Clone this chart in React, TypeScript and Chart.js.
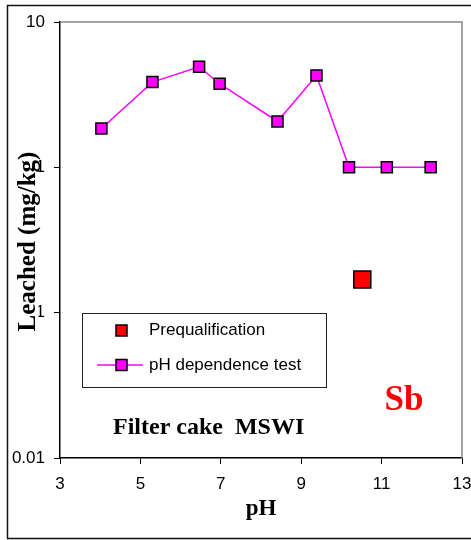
import React, { useEffect, useRef } from 'react';
import { Chart, registerables } from 'chart.js';

Chart.register(...registerables);

// ---- data ----
const phDependencePH = [4.03, 5.3, 6.46, 6.97, 8.41, 9.38, 10.19, 11.13, 12.22];
const phDependenceLeached = [1.85, 3.86, 4.92, 3.76, 2.07, 4.29, 1.0, 1.0, 1.0];
const prequalPH = [10.52];
const prequalLeached = [0.169];
const xTickValues = [3, 5, 7, 9, 11, 13];
const yTickValues = [0.01, 0.1, 1, 10];
const yTickLabels = ['0.01', '0.1', '1', '10'];
const seriesNames = ['Prequalification', 'pH dependence test'];
const xTitle = 'pH';
const yTitle = 'Leached (mg/kg)';
const panelLabel = 'Filter cake  MSWI';
const elementLabel = 'Sb';

const SANS = "'Liberation Sans', Arial, sans-serif";
const SERIF = "'Liberation Serif', 'Times New Roman', serif";

const decorPlugin = {
  id: 'decor',
  afterDraw(chart: any) {
    const { ctx, chartArea } = chart;
    const { left, top, right, bottom } = chartArea;
    ctx.save();

    // gray top/right plot border
    ctx.strokeStyle = '#888';
    ctx.lineWidth = 1.5;
    ctx.beginPath();
    ctx.moveTo(left, top);
    ctx.lineTo(right, top);
    ctx.lineTo(right, bottom);
    ctx.stroke();

    // outer frame
    ctx.strokeStyle = '#111';
    ctx.lineWidth = 1.5;
    ctx.strokeRect(7.5, 5.5, 480, 533);

    // y title with white background (covers part of tick labels as in original)
    ctx.save();
    ctx.translate(34.5, 241.5);
    ctx.rotate(-Math.PI / 2);
    ctx.font = `bold 25px ${SERIF}`;
    const w = ctx.measureText(yTitle).width;
    ctx.fillStyle = '#fff';
    ctx.fillRect(-w / 2 - 1, -17, w + 2, 21);
    ctx.fillStyle = '#000';
    ctx.textAlign = 'center';
    ctx.textBaseline = 'alphabetic';
    ctx.fillText(yTitle, 0, 0);
    ctx.restore();

    // legend box
    ctx.fillStyle = '#fff';
    ctx.fillRect(82.5, 313.5, 244, 74);
    ctx.strokeStyle = '#222';
    ctx.lineWidth = 1;
    ctx.strokeRect(82.5, 313.5, 244, 74);

    // entry 1: prequalification
    ctx.fillStyle = '#FF0000';
    ctx.fillRect(116, 325, 11, 11);
    ctx.strokeStyle = '#000';
    ctx.lineWidth = 1.5;
    ctx.strokeRect(116, 325, 11, 11);

    // entry 2: pH dependence test
    ctx.strokeStyle = '#FF00FF';
    ctx.lineWidth = 1.5;
    ctx.beginPath();
    ctx.moveTo(97, 365);
    ctx.lineTo(143, 365);
    ctx.stroke();
    ctx.fillStyle = '#FF00FF';
    ctx.fillRect(116, 359.5, 11, 11);
    ctx.strokeStyle = '#000';
    ctx.strokeRect(116, 359.5, 11, 11);

    ctx.fillStyle = '#000';
    ctx.font = `17px ${SANS}`;
    ctx.textAlign = 'left';
    ctx.textBaseline = 'middle';
    ctx.fillText(seriesNames[0], 149, 330);
    ctx.fillText(seriesNames[1], 149, 365);

    // panel label
    ctx.font = `bold 24px ${SERIF}`;
    ctx.textBaseline = 'alphabetic';
    ctx.fillText(panelLabel, 113, 434);

    // element label
    ctx.fillStyle = '#FF0000';
    ctx.font = `bold 35px ${SERIF}`;
    ctx.textAlign = 'center';
    ctx.fillText(elementLabel, 404, 410);

    ctx.restore();
  },
};

export default function App() {
  const canvasRef = useRef<HTMLCanvasElement | null>(null);

  useEffect(() => {
    if (!canvasRef.current) return;
    const chart = new Chart(canvasRef.current, {
      type: 'scatter',
      data: {
        datasets: [
          {
            label: seriesNames[0],
            data: prequalPH.map((x, i) => ({ x, y: prequalLeached[i] })),
            pointStyle: 'rect',
            pointRadius: 12,
            backgroundColor: '#FF0000',
            borderColor: '#000',
            borderWidth: 1.5,
            showLine: false,
          },
          {
            label: seriesNames[1],
            data: phDependencePH.map((x, i) => ({ x, y: phDependenceLeached[i] })),
            showLine: true,
            borderColor: '#FF00FF',
            borderWidth: 1.5,
            pointStyle: 'rect',
            pointRadius: 7.8,
            pointBackgroundColor: '#FF00FF',
            pointBorderColor: '#000',
            pointBorderWidth: 1.5,
            backgroundColor: '#FF00FF',
          },
        ],
      } as any,
      options: {
        responsive: false,
        animation: false,
        layout: { autoPadding: false, padding: { left: 0, top: 22, right: 9, bottom: 0 } },
        plugins: {
          legend: { display: false },
          tooltip: { enabled: false },
        },
        scales: {
          x: {
            type: 'linear',
            min: 3,
            max: 13,
            afterBuildTicks: (s: any) => {
              s.ticks = xTickValues.map((v) => ({ value: v }));
            },
            afterFit: (s: any) => {
              s.height = 82;
              s.paddingLeft = 0;
              s.paddingRight = 0;
            },
            ticks: {
              color: '#000',
              font: { family: SANS, size: 17 },
              padding: 10,
              maxRotation: 0,
              callback: (v: any) => String(v),
            },
            grid: { drawOnChartArea: false, color: '#000', tickLength: 6, tickWidth: 1 },
            border: { color: '#000', width: 1.5 },
            title: {
              display: true,
              text: xTitle,
              color: '#000',
              font: { family: SERIF, size: 23, weight: 'bold' },
              padding: { top: 0, bottom: 17 },
            },
          },
          y: {
            type: 'logarithmic',
            min: 0.01,
            max: 10,
            afterBuildTicks: (s: any) => {
              s.ticks = yTickValues.map((v) => ({ value: v }));
            },
            afterFit: (s: any) => {
              s.width = 60;
              s.paddingTop = 0;
              s.paddingBottom = 0;
            },
            ticks: {
              color: '#000',
              font: { family: SANS, size: 17 },
              padding: 9,
              callback: (_v: any, i: number) => yTickLabels[i],
            },
            grid: { drawOnChartArea: false, color: '#000', tickLength: 6, tickWidth: 1 },
            border: { color: '#000', width: 1.5 },
          },
        },
      } as any,
      plugins: [decorPlugin],
    });
    return () => chart.destroy();
  }, []);

  return (
    <div style={{ position: 'fixed', left: 0, top: 0, width: 471, height: 540, background: '#fff' }}>
      <canvas ref={canvasRef} width={471} height={540} style={{ display: 'block' }} />
    </div>
  );
}
